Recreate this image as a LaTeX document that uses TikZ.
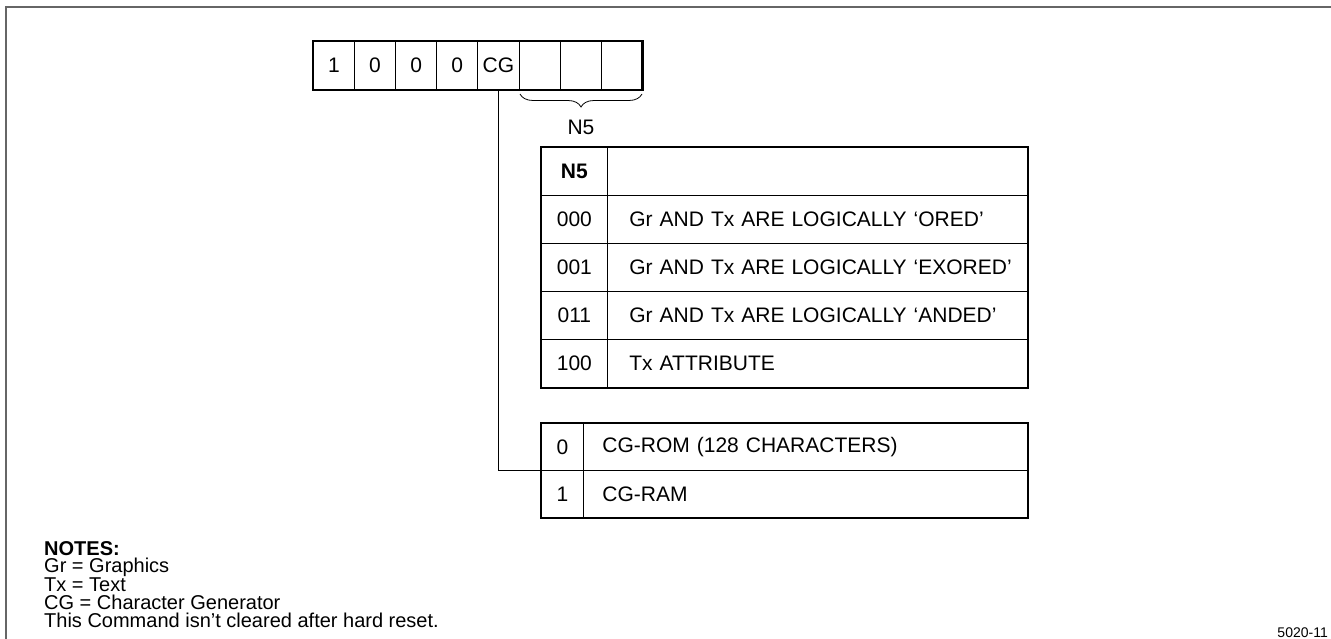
\documentclass[tikz,border=0pt]{standalone}
\usepackage{fontspec}
\setmainfont{Liberation Sans}
\usetikzlibrary{decorations.pathreplacing}
\begin{document}
\begin{tikzpicture}[x=1pt,y=-1pt,
  every node/.style={font=\fontsize{21}{23}\selectfont, inner sep=0pt},
  frameline/.style={draw=black!60, line width=2pt},
  thinline/.style={line width=0.8pt},
  heavy/.style={line width=2.4pt},
  bit/.style={draw, thinline, minimum width=41.1pt, minimum height=48pt, anchor=north west},
  keycell/.style={draw, thinline, minimum height=48pt, anchor=north west},
  desccell/.style={draw, thinline, minimum height=48pt, anchor=north west, align=left, inner xsep=10pt},
  bracestyle/.style={thinline, decorate, decoration={brace, mirror, amplitude=13pt}}
]
\useasboundingbox (0,0) rectangle (1331,639);
\draw[frameline] (6,639) |- (1331,7);

% register
\foreach \t [count=\i from 0] in {1,0,0,0,CG,{},{},{}}
  \node[bit] (b\i) at ({313+41.1*\i},41) {\t};
\draw[heavy] (b0.north west) rectangle (b7.south east);

\coordinate (brL) at (520,94);
\coordinate (brR) at (642,94);
\draw[bracestyle] (brL) -- (brR);
\node (n5lbl) at (581,127) {N5};

% N5 table
\node[keycell, minimum width=66pt] (k0) at (541,147) {\textbf{N5}};
\node[desccell, text width=400pt, minimum width=420pt] (d0) at (607,147) {};
\foreach \k/\d [count=\i] in {000/{Gr AND Tx ARE LOGICALLY ‘ORED’},001/{Gr AND Tx ARE LOGICALLY ‘EXORED’},011/{Gr AND Tx ARE LOGICALLY ‘ANDED’},100/{Tx ATTRIBUTE}}{
  \node[keycell, minimum width=66pt] (k\i) at (541,{147+48*\i}) {\k};
  \node[desccell, text width=400pt, minimum width=420pt] (d\i) at (607,{147+48*\i}) {\hspace*{12pt}\d};
}
\draw[heavy] (k0.north west) rectangle (d4.south east);

% CG table
\node[keycell, minimum width=42pt, minimum height=47pt] (c0) at (541,423) {0};
\node[desccell, minimum height=47pt, text width=424pt, minimum width=444pt] (e0) at (583,423) {\hspace*{9pt}CG-ROM (128 CHARACTERS)};
\node[keycell, minimum width=42pt, minimum height=47pt] (c1) at (541,470) {1};
\node[desccell, minimum height=47pt, text width=424pt, minimum width=444pt] (e1) at (583,470) {\hspace*{9pt}CG-RAM};
\draw[heavy] (c0.north west) rectangle (e1.south east);

% connector
\coordinate (cgend) at (554,470);
\draw[thinline] (b4.south) |- (cgend);

% notes
\node[anchor=north west, align=left, font=\fontsize{20}{17.8}\selectfont] (notes) at (44,541)
  {\textbf{NOTES:}\\Gr = Graphics\\Tx = Text\\CG = Character Generator\\This Command isn’t cleared after hard reset.};

\node[anchor=base east, font=\fontsize{14}{16}\selectfont] (fig) at (1328,637) {5020-11};
\end{tikzpicture}
\end{document}
